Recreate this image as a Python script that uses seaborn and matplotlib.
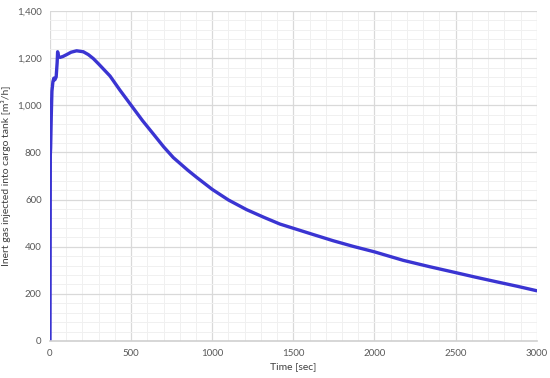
import matplotlib
matplotlib.use("Agg")
import matplotlib.pyplot as plt
import seaborn as sns
import pandas as pd
from matplotlib.ticker import MultipleLocator, FuncFormatter

time_sec = [0, 2, 4, 8, 12, 18, 24, 30, 38, 44, 47, 52, 62, 80, 103, 130, 164, 205, 236, 267,
            300, 370, 430, 500, 570, 637, 700, 760, 800, 850, 904, 1000, 1100, 1212, 1320, 1417,
            1500, 1620, 1746, 1870, 2000, 2177, 2340, 2500, 2620, 2752, 2880, 3000]
gas_rate = [0, 790, 820, 960, 1060, 1100, 1115, 1108, 1120, 1180, 1227, 1208, 1203, 1207, 1215, 1225, 1231, 1227, 1215, 1198,
            1175, 1124, 1065, 1000, 935, 878, 824, 778, 754, 724, 694, 643, 598, 557, 524, 496,
            478, 452, 425, 401, 378, 342, 315, 290, 271, 251, 232, 213]

x_ticks = [0, 500, 1000, 1500, 2000, 2500, 3000]
y_ticks = [0, 200, 400, 600, 800, 1000, 1200, 1400]

df = pd.DataFrame({"t": time_sec, "q": gas_rate})

sns.set_style("white")
plt.rcParams['font.family'] = ['Lato', 'DejaVu Sans']

fig = plt.figure(figsize=(5.5, 3.78), dpi=100)
ax = fig.add_axes([0.0909, 0.098, 0.885, 0.873])

sns.lineplot(data=df, x="t", y="q", ax=ax, color="#3A34D2", linewidth=2.4)

ax.set_xlim(0, 3000)
ax.set_ylim(0, 1400)
ax.set_xticks(x_ticks)
ax.set_yticks(y_ticks)
ax.xaxis.set_minor_locator(MultipleLocator(100))
ax.yaxis.set_minor_locator(MultipleLocator(40))
ax.yaxis.set_major_formatter(FuncFormatter(lambda v, p: f"{int(v):,}"))

ax.grid(which="major", color="#D9D9D9", linewidth=0.9)
ax.grid(which="minor", color="#F0F0F0", linewidth=0.7)
ax.set_axisbelow(True)

for s in ["top", "right", "left"]:
    ax.spines[s].set_visible(False)
ax.spines["bottom"].set_color("#D0D0D0")
ax.spines["bottom"].set_linewidth(1.2)

ax.tick_params(axis="both", which="both", length=0, labelsize=7, labelcolor="#595959", pad=6)
ax.set_xlabel("Time [sec]", fontsize=7.5, color="#404040", labelpad=3)
ax.set_ylabel("Inert gas injected into cargo tank [m³/h]", fontsize=7.5, color="#404040", labelpad=4)

fig.savefig("out.png", dpi=100)
